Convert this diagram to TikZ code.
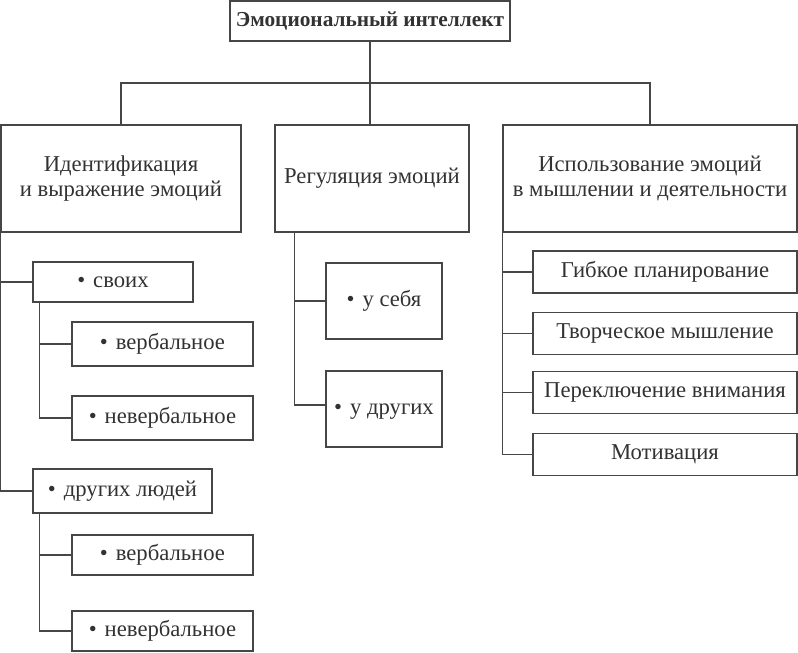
\documentclass[tikz,border=0pt]{standalone}
\usepackage{fontspec}
\setmainfont{Liberation Serif}
\definecolor{linegray}{RGB}{70,70,70}
\definecolor{textgray}{RGB}{50,50,50}
\tikzset{every picture/.style={line width=1pt}}
\newcommand{\bul}{•\hspace{0.35em}}

\begin{document}
\begin{tikzpicture}[x=0.75pt,y=0.75pt,yscale=-1,xscale=1,
  box/.style={draw=linegray, inner sep=0pt, align=center, text=textgray, font=\fontsize{17}{19}\selectfont},
  leaf/.style={box, minimum height=31.5pt},
  wire/.style={draw=linegray}]
\useasboundingbox (0,0) rectangle (798,652);

% top level
\node (root) [box, minimum width=210pt, minimum height=30pt, font=\bfseries\fontsize{16}{19}\selectfont] at (370,21) {Эмоциональный интеллект};

% second level
\node (ident) [box, minimum width=180pt, minimum height=80.25pt] at (121,178.5) {Идентификация\\и выражение эмоций};
\node (reg) [box, minimum width=145.5pt, minimum height=80.25pt] at (372,178.5) {Регуляция эмоций};
\node (usage) [box, minimum width=220.5pt, minimum height=80.25pt] at (650,178.5) {Использование эмоций\\в мышлении и деятельности};

% left branch
\node (svoih) [box, minimum width=120pt, minimum height=30pt] at (113,282) {\bul своих};
\node (verbA) [box, minimum width=135.75pt, minimum height=33pt] at (162.5,344) {\bul вербальное};
\node (nonverbA) [box, minimum width=135.75pt, minimum height=33pt] at (162.5,418) {\bul невербальное};
\node (drug) [box, minimum width=134.25pt, minimum height=33pt] at (122.5,491) {\bul других людей};
\node (verbB) [box, minimum width=135.75pt, minimum height=30pt] at (162.5,555) {\bul вербальное};
\node (nonverbB) [box, minimum width=135.75pt, minimum height=30pt] at (162.5,631) {\bul невербальное};

% middle branch
\node (self) [box, minimum width=87pt, minimum height=57pt] at (384,301) {\bul у себя};
\node (others) [box, minimum width=87pt, minimum height=57pt, text depth=-6pt] at (384,409) {\bul у других};

% right branch
\node (flex) [leaf, minimum width=198pt] at (665,272) {Гибкое планирование};
\node (creat) [leaf, minimum width=198pt] at (665,333.5) {Творческое мышление};
\node (switch) [leaf, minimum width=198pt] at (665,392.5) {Переключение внимания};
\node (motiv) [leaf, minimum width=198pt] at (665,454.5) {Мотивация};

% connectors
\coordinate (bar) at (370,83);
\draw [wire] (ident.north) |- (bar) -| (usage.north);
\draw [wire] (root.south) -- (root.south |- reg.north);

\draw [wire] (ident.south west) |- (svoih.west);
\draw [wire] (ident.south west) |- (drug.west);
\draw [wire] ([xshift=5.25pt]svoih.south west) |- (verbA.west);
\draw [wire] ([xshift=5.25pt]svoih.south west) |- (nonverbA.west);
\draw [wire] ([xshift=5.25pt]drug.south west) |- (verbB.west);
\draw [wire] ([xshift=5.25pt]drug.south west) |- (nonverbB.west);

\draw [wire] ([xshift=15pt]reg.south west) |- (self.west);
\draw [wire] ([xshift=15pt]reg.south west) |- ([yshift=-3pt]others.west);

\draw [wire] (usage.south west) |- (flex.west);
\draw [wire] (usage.south west) |- (creat.west);
\draw [wire] (usage.south west) |- (switch.west);
\draw [wire] (usage.south west) |- (motiv.west);

\end{tikzpicture}
\end{document}
